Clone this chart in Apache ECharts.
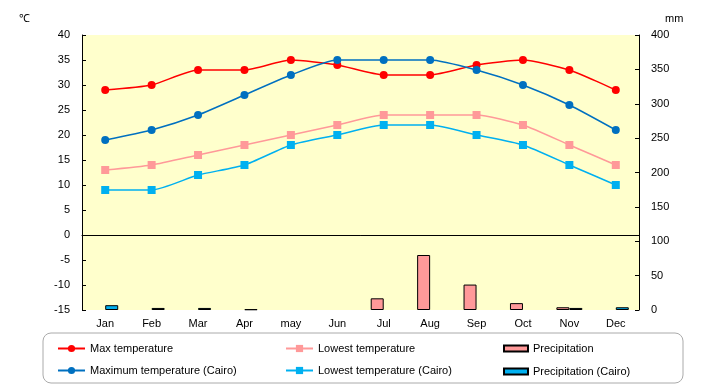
<!DOCTYPE html>
<html>
<head>
<meta charset="utf-8">
<script src="https://cdn.jsdelivr.net/npm/echarts@6/dist/echarts.min.js"></script>
<style>html,body{margin:0;padding:0;background:#fff}#c{width:720px;height:385px}</style>
</head>
<body>
<div id="c"></div>
<script>
var months = ['Jan','Feb','Mar','Apr','may','Jun','Jul','Aug','Sep','Oct','Nov','Dec'];
var maxTemp = [29,30,33,33,35,34,32,32,34,35,33,29];
var maxTempCairo = [19,21,24,28,32,35,35,35,33,30,26,21];
var lowTemp = [13,14,16,18,20,22,24,24,24,22,18,14];
var lowTempCairo = [9,9,12,14,18,20,22,22,20,18,14,10];
var precip = [0,0,0,0,0,0,17,80,37,10,4,0];
var precipCairo = [7,3,3,1,0,0,0,0,0,0,3,4];

function hideZero(arr) { return arr.map(function (v) { return v === 0 ? '-' : v; }); }

var font = 'Liberation Sans, Arial, sans-serif';
var chart = echarts.init(document.getElementById('c'));
function lineSeries(name, data, color, symbol) {
  return {
    name: name, type: 'line', data: data, yAxisIndex: 0,
    smooth: 0.2, symbol: symbol, symbolSize: 8,
    lineStyle: {color: color, width: 1.5},
    itemStyle: {color: color},
    z: 5
  };
}
var s0 = lineSeries('Max temperature', maxTemp, '#FF0000', 'circle');
s0.markLine = {silent: true, symbol: 'none', label: {show: false},
  lineStyle: {color: '#000', type: 'solid', width: 1}, data: [{yAxis: 0}]};
chart.setOption({
  animation: false,
  textStyle: {fontFamily: font},
  grid: {left: 82, right: 81, top: 35, bottom: 75, show: true, backgroundColor: '#FFFFCC', borderWidth: 0},
  xAxis: {
    type: 'category', data: months, boundaryGap: true,
    axisLine: {lineStyle: {color: '#000'}}, axisTick: {show: false},
    axisLabel: {color: '#000', fontSize: 11, margin: 8}
  },
  yAxis: [{
    type: 'value', min: -15, max: 40, interval: 5, name: '℃',
    nameGap: 11, nameTextStyle: {color: '#000', fontSize: 11, align: 'right', padding: [0, 52, 0, 0]},
    axisLine: {show: true, lineStyle: {color: '#000'}},
    axisTick: {show: true, inside: true, length: 4, lineStyle: {color: '#000'}},
    axisLabel: {color: '#000', fontSize: 11, margin: 12},
    splitLine: {show: false}
  }, {
    type: 'value', min: 0, max: 400, interval: 50, name: 'mm',
    nameGap: 11, nameTextStyle: {color: '#000', fontSize: 11, align: 'left', padding: [0, 0, 0, 26]},
    axisLine: {show: true, lineStyle: {color: '#000'}},
    axisTick: {show: true, inside: true, length: 4, lineStyle: {color: '#000'}},
    axisLabel: {color: '#000', fontSize: 11, margin: 12},
    splitLine: {show: false}
  }],
  legend: [{
    orient: 'vertical', left: 52, top: 338, itemWidth: 27, itemHeight: 9, itemGap: 11,
    textStyle: {color: '#000', fontSize: 11}, data: ['Max temperature', 'Maximum temperature (Cairo)']
  }, {
    orient: 'vertical', left: 280, top: 338, itemWidth: 27, itemHeight: 9, itemGap: 11,
    textStyle: {color: '#000', fontSize: 11}, data: ['Lowest temperature', 'Lowest temperature (Cairo)']
  }, {
    orient: 'vertical', left: 498, top: 338, itemWidth: 24, itemHeight: 6, itemGap: 12, icon: 'rect',
    textStyle: {color: '#000', fontSize: 11}, data: ['Precipitation', 'Precipitation (Cairo)']
  }],
  graphic: [{
    type: 'rect', shape: {x: 43, y: 333, width: 640, height: 50, r: 8},
    style: {fill: 'none', stroke: '#aaaaaa', lineWidth: 1}, silent: true
  }],
  series: [
    s0,
    lineSeries('Maximum temperature (Cairo)', maxTempCairo, '#0070C0', 'circle'),
    lineSeries('Lowest temperature', lowTemp, '#FF9999', 'rect'),
    lineSeries('Lowest temperature (Cairo)', lowTempCairo, '#00B0F0', 'rect'),
    {name: 'Precipitation', type: 'bar', yAxisIndex: 1, data: hideZero(precip), barWidth: 13, barGap: '0%',
     itemStyle: {color: '#FF9999', borderColor: '#000', borderWidth: 1}},
    {name: 'Precipitation (Cairo)', type: 'bar', yAxisIndex: 1, data: hideZero(precipCairo), barWidth: 13, barGap: '0%',
     itemStyle: {color: '#00B0F0', borderColor: '#000', borderWidth: 1}}
  ]
});
</script>
</body>
</html>
